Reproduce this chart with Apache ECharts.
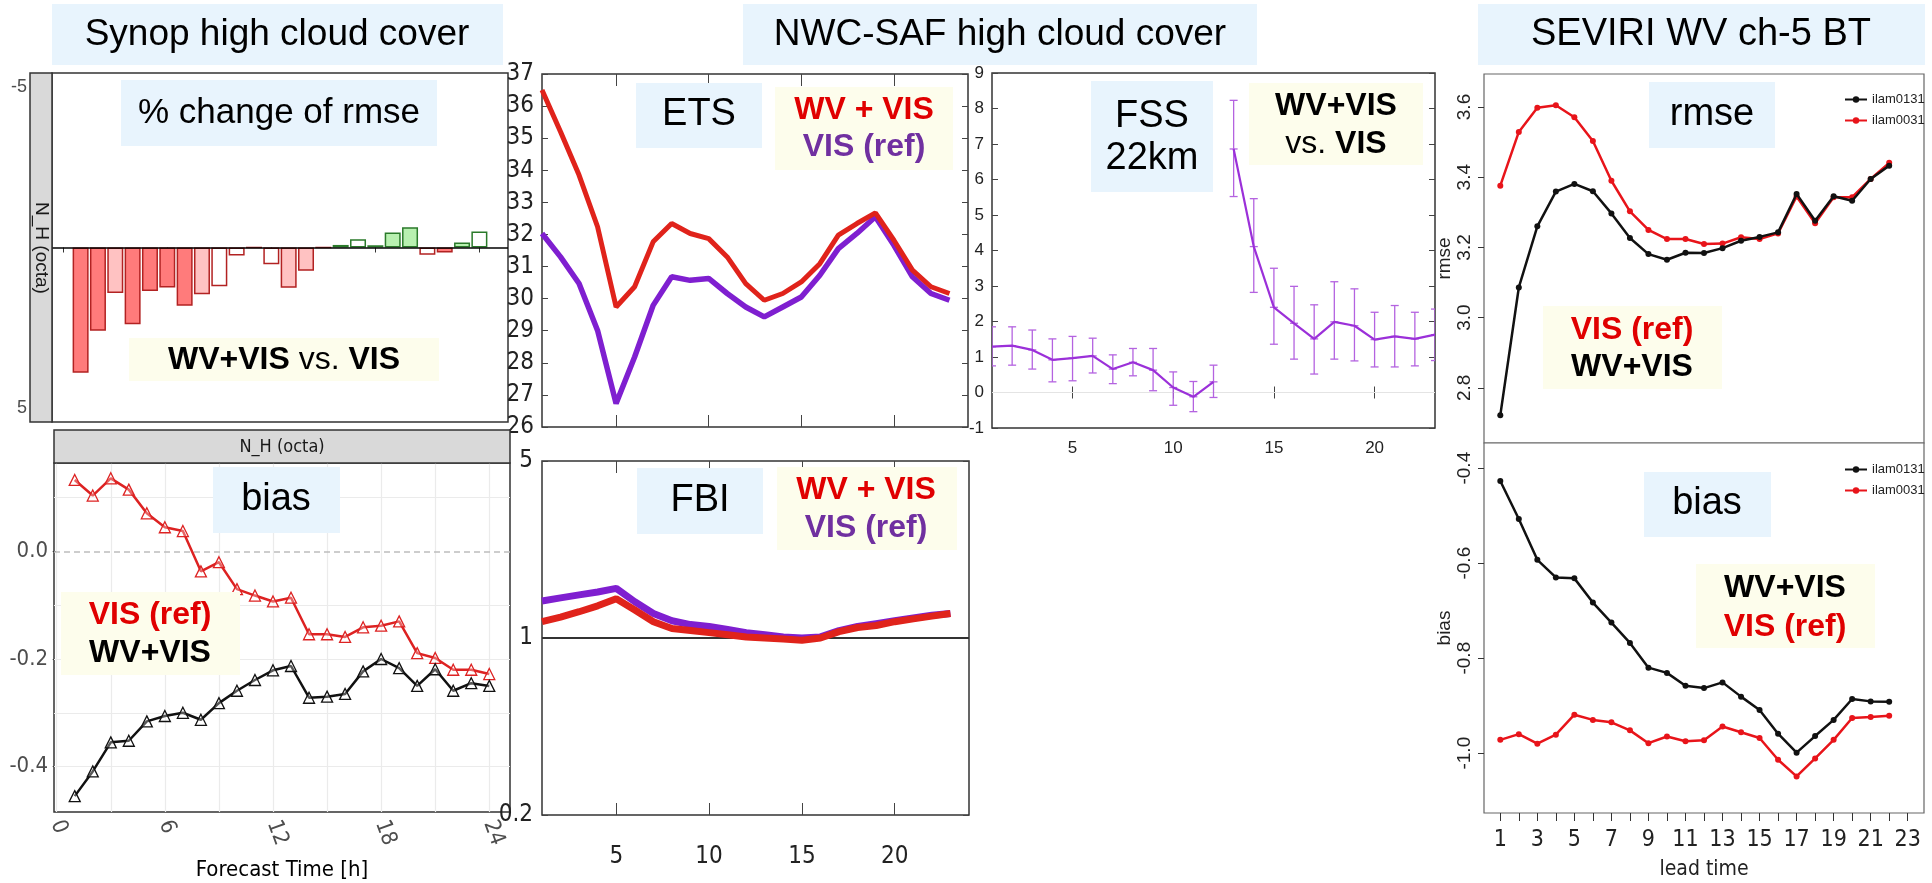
<!DOCTYPE html>
<html>
<head>
<meta charset="utf-8">
<title>High cloud cover verification</title>
<script src="https://cdn.jsdelivr.net/npm/echarts@6/dist/echarts.min.js"></script>
<style>
  html, body { margin: 0; padding: 0; background: #fff; }
  #main { width: 1932px; height: 883px; }
</style>
</head>
<body>
<div id="main"></div>
<script>
// ---- Synop high cloud cover (forecast hours 1..24) ----
const hours = [1, 2, 3, 4, 5, 6, 7, 8, 9, 10, 11, 12, 13, 14, 15, 16, 17, 18, 19, 20, 21, 22, 23, 24];
const hourTicks = [0, 6, 12, 18, 24];
// % change of rmse, WV+VIS vs. VIS (axis drawn inverted)
const rmseChange = [3.91, 2.60, 1.42, 2.40, 1.36, 1.25, 1.82, 1.46, 1.21, 0.25, 0, 0.52,
                    1.26, 0.73, 0, -0.08, -0.26, -0.07, -0.47, -0.63, 0.23, 0.16, -0.16, -0.50];
// fill strength of each bar: 0 white, 1 light, 2 strong
const rmseShade = [2, 2, 1, 2, 2, 2, 2, 1, 0, 0, 0, 0, 1, 1, 0, 2, 0, 2, 1, 1, 0, 2, 1, 0];
const biasVisRef = [0.133, 0.104, 0.136, 0.115, 0.071, 0.045, 0.038, -0.037, -0.020, -0.070, -0.082, -0.093,
                    -0.086, -0.154, -0.154, -0.159, -0.141, -0.138, -0.130, -0.189, -0.198, -0.220, -0.220, -0.228];
const biasWvVis = [-0.455, -0.409, -0.355, -0.352, -0.316, -0.306, -0.300, -0.313, -0.282, -0.259, -0.239, -0.221,
                   -0.213, -0.272, -0.270, -0.265, -0.223, -0.200, -0.217, -0.250, -0.219, -0.259, -0.245, -0.250];
const biasGridX = [0, 3, 6, 9, 12, 15, 18, 21, 24];
const biasGridY = [0.1, -0.1, -0.2, -0.3, -0.4];

// ---- NWC-SAF high cloud cover (lead 1..23) ----
const leadNwc = [1, 2, 3, 4, 5, 6, 7, 8, 9, 10, 11, 12, 13, 14, 15, 16, 17, 18, 19, 20, 21, 22, 23];
const nwcTicks = [5, 10, 15, 20];
const etsWvVis = [36.5, 35.2, 33.85, 32.24, 29.74, 30.37, 31.77, 32.34, 32.03, 31.87, 31.3, 30.47,
                  29.95, 30.16, 30.52, 31.09, 31.98, 32.34, 32.67, 31.82, 30.89, 30.37, 30.16];
const etsVisRef = [32.03, 31.3, 30.47, 29.01, 26.73, 28.18, 29.79, 30.68, 30.57, 30.63, 30.16, 29.74,
                   29.43, 29.74, 30.05, 30.73, 31.56, 32.03, 32.55, 31.66, 30.68, 30.16, 29.95];
const fbiWvVis = [1.16, 1.21, 1.27, 1.34, 1.43, 1.29, 1.16, 1.09, 1.07, 1.05, 1.03, 1.01,
                  1.0, 0.99, 0.98, 1.0, 1.06, 1.1, 1.12, 1.16, 1.19, 1.22, 1.25];
const fbiVisRef = [1.40, 1.44, 1.48, 1.52, 1.57, 1.39, 1.25, 1.17, 1.13, 1.11, 1.08, 1.05,
                   1.03, 1.01, 1.0, 1.01, 1.07, 1.11, 1.14, 1.17, 1.2, 1.23, 1.25];
const fssMean = [1.29, 1.32, 1.20, 0.92, 0.97, 1.03, 0.66, 0.85, 0.63, 0.14, -0.12, 0.30,
                 6.86, 4.11, 2.40, 1.95, 1.51, 1.99, 1.88, 1.49, 1.58, 1.51, 1.63];
const fssLow = [0.75, 0.77, 0.66, 0.30, 0.33, 0.55, 0.25, 0.47, 0.05, -0.36, -0.54, -0.14,
                5.52, 2.82, 1.36, 0.94, 0.52, 0.94, 0.89, 0.72, 0.72, 0.75, 0.90];
const fssHigh = [1.85, 1.85, 1.76, 1.51, 1.58, 1.53, 1.06, 1.24, 1.24, 0.58, 0.31, 0.77,
                 8.23, 5.46, 3.50, 2.99, 2.47, 3.12, 2.92, 2.26, 2.45, 2.26, 2.35];

// ---- SEVIRI WV ch-5 BT (lead 1..22) ----
const leadSev = [1, 2, 3, 4, 5, 6, 7, 8, 9, 10, 11, 12, 13, 14, 15, 16, 17, 18, 19, 20, 21, 22];
const leadTicks = [1, 2, 3, 4, 5, 6, 7, 8, 9, 10, 11, 12, 13, 14, 15, 16, 17, 18, 19, 20, 21, 22, 23];
const leadLabels = [1, 3, 5, 7, 9, 11, 13, 15, 17, 19, 21, 23];
const rmseTicks = [2.8, 3.0, 3.2, 3.4, 3.6];
const biasTicks = [-1.0, -0.8, -0.6, -0.4];
const rmseIlam0131 = [2.722, 3.086, 3.26, 3.359, 3.381, 3.36, 3.297, 3.227, 3.181, 3.165, 3.185,
                      3.184, 3.198, 3.219, 3.23, 3.243, 3.352, 3.276, 3.346, 3.333, 3.395, 3.433];
const rmseIlam0031 = [3.376, 3.529, 3.598, 3.605, 3.571, 3.503, 3.39, 3.303, 3.25, 3.224, 3.224,
                      3.21, 3.211, 3.229, 3.224, 3.24, 3.345, 3.269, 3.343, 3.343, 3.395, 3.441];
const biasIlam0131 = [-0.427, -0.507, -0.593, -0.630, -0.632, -0.683, -0.725, -0.768, -0.820, -0.831, -0.858,
                      -0.863, -0.851, -0.881, -0.909, -0.959, -0.999, -0.964, -0.930, -0.886, -0.891, -0.892];
const biasIlam0031 = [-0.972, -0.960, -0.980, -0.961, -0.919, -0.930, -0.935, -0.952, -0.979, -0.965, -0.975,
                      -0.973, -0.944, -0.956, -0.968, -1.014, -1.049, -1.011, -0.972, -0.926, -0.924, -0.921];

const SANS = "'Liberation Sans', Arial, sans-serif";
const NARROW = "'Liberation Sans Narrow', 'DejaVu Sans Condensed', 'Liberation Sans', sans-serif";
const RED = '#e00000';
const PURPLE = '#7030a0';
const BLUEBOX = '#e8f4fd';
const IVORY = '#fdfdec';

const chart = echarts.init(document.getElementById('main'));

function barStyle(v, shade) {
  if (v >= 0) {
    return { color: ['#ffffff', '#ffc2c2', '#ff7b7b'][shade], borderColor: '#b22222', borderWidth: 1.5 };
  }
  return { color: ['#ffffff', '#b8f0b0', '#55b855'][shade], borderColor: '#2a7a2a', borderWidth: 1.5 };
}

function pairs(xs, ys) {
  return xs.map((x, i) => [x, ys[i]]);
}

// text boxes drawn on top of the plots
function rect(x, y, w, h, fill, stroke) {
  return { type: 'rect', z: 100, silent: true, shape: { x: x, y: y, width: w, height: h },
           style: { fill: fill, stroke: stroke || null, lineWidth: stroke ? 1.5 : 0 } };
}
function text(x, y, str, size, color, weight, rot, family) {
  return { type: 'text', z: 101, silent: true, x: x, y: y, rotation: rot || 0,
           style: { text: str, fontSize: size, fontWeight: weight || 'normal', fill: color || '#000',
                    fontFamily: family || SANS, align: 'center', verticalAlign: 'middle',
                    textAlign: 'center', textVerticalAlign: 'middle' } };
}
function richText(x, y, str, size) {
  return { type: 'text', z: 101, silent: true, x: x, y: y,
           style: { text: str, fontFamily: SANS, fontSize: size, fill: '#000',
                    align: 'center', verticalAlign: 'middle', textAlign: 'center', textVerticalAlign: 'middle',
                    rich: { b: { fontSize: size, fontWeight: 'bold', fontFamily: SANS },
                            n: { fontSize: size, fontFamily: SANS } } } };
}

const graphics = [
  // headers
  rect(52, 4, 451, 61, BLUEBOX), text(277, 35, 'Synop high cloud cover', 37),
  rect(743, 4, 514, 61, BLUEBOX), text(1000, 35, 'NWC-SAF high cloud cover', 37),
  rect(1478, 4, 447, 61, BLUEBOX), text(1701, 35, 'SEVIRI WV ch-5 BT', 38),
  // facet strips (left column)
  rect(30, 73, 22, 349, '#d9d9d9', '#333'), text(41, 248, 'N_H (octa)', 19, '#1a1a1a', 'normal', -Math.PI / 2),
  rect(54, 430, 456, 33, '#d9d9d9', '#333'), text(282, 447, 'N_H (octa)', 18, '#1a1a1a', 'normal', 0, NARROW),
  // panel labels
  rect(121, 80, 316, 66, BLUEBOX), text(279, 113, '% change of rmse', 35),
  rect(213, 467, 127, 66, BLUEBOX), text(276, 500, 'bias', 38),
  rect(636, 83, 126, 65, BLUEBOX), text(699, 115, 'ETS', 38),
  rect(637, 468, 126, 66, BLUEBOX), text(700, 501, 'FBI', 38),
  rect(1091, 81, 122, 111, BLUEBOX), text(1152, 117, 'FSS', 38), text(1152, 159, '22km', 38),
  rect(1649, 82, 126, 66, BLUEBOX), text(1712, 115, 'rmse', 38),
  rect(1644, 472, 127, 65, BLUEBOX), text(1707, 504, 'bias', 38),
  // experiment keys
  rect(129, 338, 310, 43, IVORY), richText(284, 360, '{b|WV+VIS} {n|vs.} {b|VIS}', 32),
  rect(61, 592, 179, 83, IVORY), text(150, 615, 'VIS (ref)', 32, RED, 'bold'), text(150, 653, 'WV+VIS', 32, '#000', 'bold'),
  rect(775, 87, 178, 83, IVORY), text(864, 110, 'WV + VIS', 32, RED, 'bold'), text(864, 147, 'VIS (ref)', 32, PURPLE, 'bold'),
  rect(777, 467, 180, 83, IVORY), text(866, 490, 'WV + VIS', 32, RED, 'bold'), text(866, 528, 'VIS (ref)', 32, PURPLE, 'bold'),
  rect(1249, 83, 174, 82, IVORY), text(1336, 106, 'WV+VIS', 32, '#000', 'bold'), richText(1336, 144, '{n|vs.} {b|VIS}', 32),
  rect(1543, 306, 179, 83, IVORY), text(1632, 330, 'VIS (ref)', 32, RED, 'bold'), text(1632, 367, 'WV+VIS', 32, '#000', 'bold'),
  rect(1696, 564, 179, 84, IVORY), text(1785, 588, 'WV+VIS', 32, '#000', 'bold'), text(1785, 627, 'VIS (ref)', 32, RED, 'bold')
];

const boxGrid = { show: true, backgroundColor: '#fff', borderColor: '#333', borderWidth: 1.5, containLabel: false };
const rGrid = { show: true, backgroundColor: '#fff', borderColor: '#666', borderWidth: 1.2, containLabel: false };

const noLine = { show: false };
const noSplit = { show: false };
const matTick = (len, vals) => ({ show: true, inside: true, length: len, customValues: vals, lineStyle: { color: '#444', width: 1 } });

const option = {
  animation: false,
  backgroundColor: '#fff',
  textStyle: { fontFamily: SANS },
  grid: [
    Object.assign({ left: 52, top: 73, width: 456, height: 349 }, boxGrid),
    Object.assign({ left: 54, top: 463, width: 456, height: 349 }, boxGrid),
    Object.assign({ left: 542, top: 74, width: 426, height: 353 }, boxGrid),
    Object.assign({ left: 542, top: 461, width: 427, height: 354 }, boxGrid),
    Object.assign({ left: 992, top: 73, width: 443, height: 355 }, boxGrid),
    Object.assign({ left: 1484, top: 74, width: 440, height: 369 }, rGrid),
    Object.assign({ left: 1484, top: 443, width: 440, height: 370 }, rGrid)
  ],
  xAxis: [
    { gridIndex: 0, type: 'value', min: -0.65, max: 25.65, axisLine: noLine, splitLine: noSplit,
      axisTick: { show: true, length: 5, customValues: hourTicks, lineStyle: { color: '#333' } },
      axisLabel: { show: false } },
    { gridIndex: 1, type: 'value', min: -0.15, max: 25.15, axisLine: noLine, splitLine: noSplit,
      axisTick: { show: true, length: 5, customValues: hourTicks, lineStyle: { color: '#333' } },
      axisLabel: { customValues: hourTicks, rotate: -70, margin: 9, fontSize: 22, color: '#4d4d4d', fontFamily: NARROW },
      name: 'Forecast Time [h]', nameLocation: 'middle', nameGap: 47,
      nameTextStyle: { fontSize: 22, color: '#000', fontFamily: NARROW } },
    { gridIndex: 2, type: 'value', min: 1, max: 24, axisLine: noLine, splitLine: noSplit,
      axisTick: matTick(12, nwcTicks), axisLabel: { show: false } },
    { gridIndex: 2, type: 'value', position: 'top', min: 1, max: 24, axisLine: noLine, splitLine: noSplit,
      axisTick: matTick(12, nwcTicks), axisLabel: { show: false } },
    { gridIndex: 3, type: 'value', min: 1, max: 24, axisLine: noLine, splitLine: noSplit,
      axisTick: matTick(12, nwcTicks),
      axisLabel: { customValues: nwcTicks, margin: 30, fontSize: 24, color: '#222', fontFamily: NARROW } },
    { gridIndex: 3, type: 'value', position: 'top', min: 1, max: 24, axisLine: noLine, splitLine: noSplit,
      axisTick: matTick(12, nwcTicks), axisLabel: { show: false } },
    { gridIndex: 4, type: 'value', min: 1, max: 23, axisLine: noLine, splitLine: noSplit,
      axisTick: matTick(6, nwcTicks),
      axisLabel: { customValues: nwcTicks, margin: 12, fontSize: 17, color: '#222' } },
    { gridIndex: 4, type: 'value', position: 'top', min: 1, max: 23, axisLine: noLine, splitLine: noSplit,
      axisTick: matTick(6, nwcTicks), axisLabel: { show: false } },
    { gridIndex: 5, type: 'value', min: 0.12, max: 23.88, show: false },
    { gridIndex: 6, type: 'value', min: 0.12, max: 23.88, axisLine: noLine, splitLine: noSplit,
      axisTick: { show: true, length: 8, customValues: leadTicks, lineStyle: { color: '#333' } },
      axisLabel: { customValues: leadLabels, margin: 16, fontSize: 23, color: '#222', fontFamily: NARROW },
      name: 'lead time', nameLocation: 'middle', nameGap: 46,
      nameTextStyle: { fontSize: 21, color: '#222', fontFamily: NARROW } }
  ],
  yAxis: [
    { gridIndex: 0, type: 'value', inverse: true, min: -5.45, max: 5.45, axisLine: noLine, splitLine: noSplit,
      axisTick: { show: false },
      axisLabel: { customValues: [-5, 5], margin: 25, fontSize: 18, color: '#4d4d4d' } },
    { gridIndex: 1, type: 'value', min: -0.4845, max: 0.1645, axisLine: noLine, splitLine: noSplit,
      axisTick: { show: true, length: 4, customValues: [-0.4, -0.2, 0], lineStyle: { color: '#333' } },
      axisLabel: { customValues: [-0.4, -0.2, 0], formatter: v => v.toFixed(1), margin: 6,
                   fontSize: 22, color: '#4d4d4d', fontFamily: NARROW } },
    { gridIndex: 2, type: 'value', min: 26, max: 37, interval: 1, axisLine: noLine, splitLine: noSplit,
      axisTick: { show: true, inside: true, length: 6, lineStyle: { color: '#444' } },
      axisLabel: { margin: 8, fontSize: 24, color: '#222', fontFamily: NARROW } },
    { gridIndex: 2, type: 'value', position: 'right', min: 26, max: 37, interval: 1, axisLine: noLine, splitLine: noSplit,
      axisTick: { show: true, inside: true, length: 6, lineStyle: { color: '#444' } }, axisLabel: { show: false } },
    { gridIndex: 3, type: 'log', logBase: 10, min: 0.2, max: 5, axisLine: noLine, splitLine: noSplit,
      axisTick: { show: true, inside: true, length: 6, lineStyle: { color: '#444' } },
      axisLabel: { margin: 9, fontSize: 24, color: '#222', fontFamily: NARROW } },
    { gridIndex: 3, type: 'log', logBase: 10, position: 'right', min: 0.2, max: 5, axisLine: noLine, splitLine: noSplit,
      axisTick: { show: true, inside: true, length: 6, lineStyle: { color: '#444' } }, axisLabel: { show: false } },
    { gridIndex: 4, type: 'value', min: -1, max: 9, interval: 1, axisLine: noLine, splitLine: noSplit,
      axisTick: { show: true, inside: true, length: 6, lineStyle: { color: '#444' } },
      axisLabel: { margin: 8, fontSize: 17, color: '#222' } },
    { gridIndex: 4, type: 'value', position: 'right', min: -1, max: 9, interval: 1, axisLine: noLine, splitLine: noSplit,
      axisTick: { show: true, inside: true, length: 6, lineStyle: { color: '#444' } }, axisLabel: { show: false } },
    { gridIndex: 5, type: 'value', min: 2.643, max: 3.694, axisLine: noLine, splitLine: noSplit,
      axisTick: { show: true, length: 6, customValues: rmseTicks, lineStyle: { color: '#333' } },
      axisLabel: { customValues: rmseTicks, formatter: v => v.toFixed(1), rotate: 90, margin: 10,
                   fontSize: 19, color: '#222' },
      name: 'rmse', nameLocation: 'middle', nameRotate: 90, nameGap: 28,
      nameTextStyle: { fontSize: 19, color: '#222' } },
    { gridIndex: 6, type: 'value', min: -1.126, max: -0.347, axisLine: noLine, splitLine: noSplit,
      axisTick: { show: true, length: 6, customValues: biasTicks, lineStyle: { color: '#333' } },
      axisLabel: { customValues: biasTicks, formatter: v => v.toFixed(1), rotate: 90, margin: 10,
                   fontSize: 19, color: '#222' },
      name: 'bias', nameLocation: 'middle', nameRotate: 90, nameGap: 28,
      nameTextStyle: { fontSize: 19, color: '#222' } }
  ],
  legend: [
    { data: ['ilam0131', 'ilam0031'], orient: 'vertical', left: 1839, top: 88, itemWidth: 22, itemHeight: 8,
      itemGap: 8, selectedMode: false, textStyle: { fontSize: 13, color: '#222', fontFamily: SANS } },
    { data: ['ilam0131', 'ilam0031'], orient: 'vertical', left: 1839, top: 458, itemWidth: 22, itemHeight: 8,
      itemGap: 8, selectedMode: false, textStyle: { fontSize: 13, color: '#222', fontFamily: SANS } }
  ],
  graphic: { elements: graphics },
  series: [
    // % change of rmse
    { type: 'bar', xAxisIndex: 0, yAxisIndex: 0, barWidth: 16, z: 3,
      data: hours.map((h, i) => ({ value: [h, rmseChange[i]], itemStyle: barStyle(rmseChange[i], rmseShade[i]) })),
      markLine: { silent: true, symbol: 'none', label: { show: false },
                  lineStyle: { color: '#000', width: 1.5, type: 'solid' }, data: [{ yAxis: 0 }] } },
    // grid lines for synop bias
    { type: 'line', xAxisIndex: 1, yAxisIndex: 1, data: [], z: 1,
      markLine: { silent: true, symbol: 'none', label: { show: false },
                  lineStyle: { color: '#ebebeb', width: 1.2, type: 'solid' },
                  data: biasGridX.map(v => ({ xAxis: v })).concat(biasGridY.map(v => ({ yAxis: v })))
                    .concat([{ yAxis: 0, lineStyle: { color: '#bdbdbd', type: [6, 4], width: 1.5 } }]) } },
    { name: 'VIS (ref)', type: 'line', xAxisIndex: 1, yAxisIndex: 1, z: 10, data: pairs(hours, biasVisRef),
      lineStyle: { color: '#dd2222', width: 2.5 }, symbol: 'triangle', symbolSize: 11,
      itemStyle: { color: 'rgba(255,255,255,0.3)', borderColor: '#dd2222', borderWidth: 1.3 } },
    { name: 'WV+VIS', type: 'line', xAxisIndex: 1, yAxisIndex: 1, z: 10, data: pairs(hours, biasWvVis),
      lineStyle: { color: '#111', width: 2.5 }, symbol: 'triangle', symbolSize: 11,
      itemStyle: { color: 'rgba(255,255,255,0.3)', borderColor: '#111', borderWidth: 1.3 } },
    // ETS
    { name: 'ETS VIS (ref)', type: 'line', xAxisIndex: 2, yAxisIndex: 2, z: 10, data: pairs(leadNwc, etsVisRef),
      symbol: 'none', lineStyle: { color: '#7f1fd0', width: 5.5 } },
    { name: 'ETS WV + VIS', type: 'line', xAxisIndex: 2, yAxisIndex: 2, z: 11, data: pairs(leadNwc, etsWvVis),
      symbol: 'none', lineStyle: { color: '#e0231b', width: 5 } },
    // FBI
    { name: 'FBI VIS (ref)', type: 'line', xAxisIndex: 4, yAxisIndex: 4, z: 10, data: pairs(leadNwc, fbiVisRef),
      symbol: 'none', lineStyle: { color: '#7f1fd0', width: 7 },
      markLine: { silent: true, symbol: 'none', label: { show: false },
                  lineStyle: { color: '#333', width: 2, type: 'solid' }, data: [{ yAxis: 1 }] } },
    { name: 'FBI WV + VIS', type: 'line', xAxisIndex: 4, yAxisIndex: 4, z: 11, data: pairs(leadNwc, fbiWvVis),
      symbol: 'none', lineStyle: { color: '#e0231b', width: 7 } },
    // FSS difference with error bars
    { type: 'custom', xAxisIndex: 6, yAxisIndex: 6, z: 9, clip: true,
      data: leadNwc.map((x, i) => [x, fssLow[i], fssHigh[i], fssMean[i]]),
      renderItem: function (params, api) {
        const x = api.value(0);
        const lo = api.coord([x, api.value(1)]);
        const hi = api.coord([x, api.value(2)]);
        const mid = api.coord([x, api.value(3)]);
        const c = 4;
        const st = { stroke: '#b463e0', lineWidth: 1.3 };
        return { type: 'group', children: [
          { type: 'line', shape: { x1: lo[0], y1: lo[1], x2: hi[0], y2: hi[1] }, style: st },
          { type: 'line', shape: { x1: lo[0] - c, y1: lo[1], x2: lo[0] + c, y2: lo[1] }, style: st },
          { type: 'line', shape: { x1: hi[0] - c, y1: hi[1], x2: hi[0] + c, y2: hi[1] }, style: st },
          { type: 'line', shape: { x1: mid[0] - c, y1: mid[1], x2: mid[0] + c, y2: mid[1] }, style: st }
        ] };
      },
      markLine: { silent: true, symbol: 'none', label: { show: false },
                  lineStyle: { color: '#e4e4e4', width: 1.2, type: 'solid' }, data: [{ yAxis: 0 }] } },
    { name: 'FSS a', type: 'line', xAxisIndex: 6, yAxisIndex: 6, z: 10, symbol: 'none',
      data: pairs(leadNwc.slice(0, 12), fssMean.slice(0, 12)), lineStyle: { color: '#9b30d9', width: 2.2 } },
    { name: 'FSS b', type: 'line', xAxisIndex: 6, yAxisIndex: 6, z: 10, symbol: 'none',
      data: pairs(leadNwc.slice(12), fssMean.slice(12)), lineStyle: { color: '#9b30d9', width: 2.2 } },
    // SEVIRI rmse
    { name: 'ilam0031', type: 'line', xAxisIndex: 8, yAxisIndex: 8, z: 10, data: pairs(leadSev, rmseIlam0031),
      symbol: 'circle', symbolSize: 6, itemStyle: { color: '#e8141a' }, lineStyle: { color: '#e8141a', width: 2.5 } },
    { name: 'ilam0131', type: 'line', xAxisIndex: 8, yAxisIndex: 8, z: 11, data: pairs(leadSev, rmseIlam0131),
      symbol: 'circle', symbolSize: 6, itemStyle: { color: '#111' }, lineStyle: { color: '#111', width: 2.5 } },
    // SEVIRI bias
    { name: 'ilam0131', type: 'line', xAxisIndex: 9, yAxisIndex: 9, z: 11, data: pairs(leadSev, biasIlam0131),
      symbol: 'circle', symbolSize: 6, itemStyle: { color: '#111' }, lineStyle: { color: '#111', width: 2.5 } },
    { name: 'ilam0031', type: 'line', xAxisIndex: 9, yAxisIndex: 9, z: 10, data: pairs(leadSev, biasIlam0031),
      symbol: 'circle', symbolSize: 6, itemStyle: { color: '#e8141a' }, lineStyle: { color: '#e8141a', width: 2.5 } }
  ]
};

chart.setOption(option);
</script>
</body>
</html>
